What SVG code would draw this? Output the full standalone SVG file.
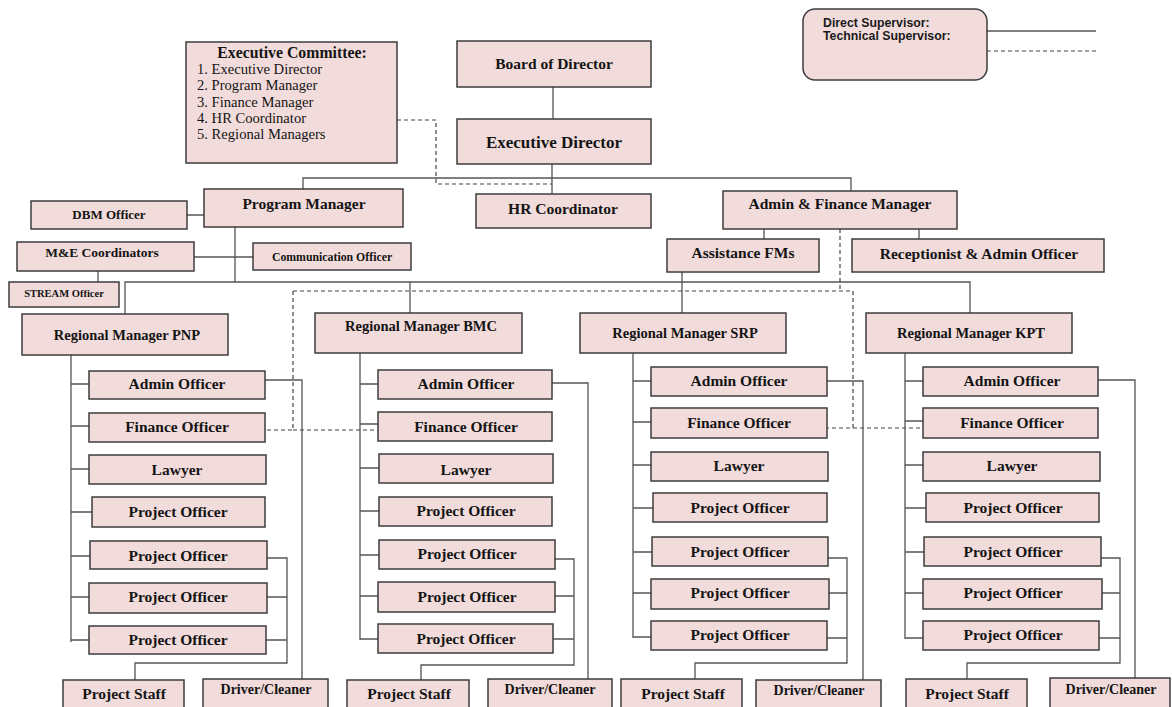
<svg xmlns="http://www.w3.org/2000/svg" width="1172" height="707" viewBox="0 0 1172 707">
<style>
.b{fill:#f2dcdb;stroke:#3c3c3c;stroke-width:1.5}
.t{font-family:"Liberation Serif","Times New Roman",serif;font-weight:bold;fill:#141414;text-anchor:middle;font-size:15.5px}
.s{font-size:14.5px}
.ln{fill:none;stroke:#555;stroke-width:1.3}
.d{fill:none;stroke:#444;stroke-width:1.2;stroke-dasharray:4 3}
.lg{font-family:"Liberation Sans",Arial,sans-serif;font-weight:bold;font-size:12.3px;fill:#1a1a1a}
.r{font-family:"Liberation Serif","Times New Roman",serif;font-size:14.6px;fill:#141414}
</style>
<rect width="1172" height="707" fill="#fff"/>
<g id="connectors">
<path class="ln" d="M553 87V119M552 164V194M303 189V178H851V191"/>
<path class="d" d="M397 120H436V184H552"/>
<path class="ln" d="M187 215H204M194 257H253M235 227V282M98 271V282M125 314V282H970V313M410 282V313M682 272V313M764 229V239M919 229V239"/>
<path class="d" d="M840 229V291M293 291H853M293 291V430H265M293 430H378M853 291V428H826M853 428H923"/>
<path class="ln" d="M987 31H1096"/>
<path class="d" d="M987 51H1098"/>
<path class="ln" d="M71 355V642M71 384H89M71 426H89M71 469H89M71 512H92M71 556H90M71 597H89M71 640H89"/>
<path class="ln" d="M267 558H287V663H135V680M267 597H287M266 640H287M265 380H302V679"/>
<path class="ln" d="M360 353V640M360 384H378M360 424H378M360 468H379M360 511H379M360 555H379M360 596H378M360 639H378"/>
<path class="ln" d="M555 559H574V665H421V680M555 596H574M553 639H574M552 383H588V679"/>
<path class="ln" d="M633 353V638M633 381H651M633 422H651M633 465H651M633 508H653M633 552H652M633 593H651M633 637H651"/>
<path class="ln" d="M828 558H847V663H695V679M829 593H847M827 638H847M827 381H863V680"/>
<path class="ln" d="M905 353V639M905 381H923M905 421H923M905 465H923M905 508H926M905 552H924M905 593H923M905 638H923"/>
<path class="ln" d="M1101 558H1120V663H967V679M1102 593H1120M1099 638H1120M1098 380H1135V678"/>
</g>
<g id="legend">
<rect class="b" x="803" y="9" width="184" height="71" rx="12"/>
<text class="lg" x="823" y="27">Direct Supervisor:</text>
<text class="lg" x="823" y="40">Technical Supervisor:</text>
</g>
<g id="executive-committee">
<rect class="b" x="186" y="42" width="211" height="121"/>
<text class="t" x="292" y="58" style="font-size:15.8px">Executive Committee:</text>
<text class="r" x="197" y="74">1. Executive Director</text>
<text class="r" x="197" y="90.3">2. Program Manager</text>
<text class="r" x="197" y="106.6">3. Finance Manager</text>
<text class="r" x="197" y="122.9">4. HR Coordinator</text>
<text class="r" x="197" y="139.2">5. Regional Managers</text>
</g>
<g id="board"><rect class="b" x="457" y="41" width="194" height="46"/><text class="t" x="554" y="69">Board of Director</text></g>
<g id="executive-director"><rect class="b" x="457" y="119" width="194" height="45"/><text class="t" x="554" y="148" style="font-size:17px">Executive Director</text></g>
<g id="hr-coordinator"><rect class="b" x="476" y="194" width="175" height="34"/><text class="t" x="563" y="214">HR Coordinator</text></g>
<g id="program-manager"><rect class="b" x="204" y="189" width="199" height="38"/><text class="t" x="304" y="209">Program Manager</text></g>
<g id="dbm-officer"><rect class="b" x="31" y="201" width="156" height="28"/><text class="t" x="109" y="219" style="font-size:13px">DBM Officer</text></g>
<g id="me-coordinators"><rect class="b" x="17" y="242" width="177" height="29"/><text class="t" x="102" y="257" style="font-size:13.5px">M&amp;E Coordinators</text></g>
<g id="communication-officer"><rect class="b" x="253" y="243" width="158" height="27"/><text class="t" x="332" y="261" style="font-size:11.8px">Communication Officer</text></g>
<g id="stream-officer"><rect class="b" x="9" y="282" width="110" height="25"/><text class="t" x="64" y="297" style="font-size:10.5px">STREAM Officer</text></g>
<g id="admin-finance-manager"><rect class="b" x="723" y="191" width="234" height="38"/><text class="t" x="840" y="209">Admin &amp; Finance Manager</text></g>
<g id="assistance-fms"><rect class="b" x="667" y="239" width="152" height="33"/><text class="t" x="743" y="258">Assistance FMs</text></g>
<g id="receptionist"><rect class="b" x="852" y="239" width="252" height="33"/><text class="t" x="979" y="259">Receptionist &amp; Admin Officer</text></g>

<g id="rm-pnp"><rect class="b" x="22" y="314" width="206" height="41"/><text class="t s" x="127" y="340">Regional Manager PNP</text></g>
<g id="rm-bmc"><rect class="b" x="315" y="313" width="207" height="40"/><text class="t s" x="421" y="331">Regional Manager BMC</text></g>
<g id="rm-srp"><rect class="b" x="580" y="313" width="206" height="40"/><text class="t s" x="685" y="338">Regional Manager SRP</text></g>
<g id="rm-kpt"><rect class="b" x="866" y="313" width="206" height="40"/><text class="t s" x="971" y="338">Regional Manager KPT</text></g>

<g id="pnp-admin"><rect class="b" x="89" y="371" width="176" height="28"/><text class="t" x="177" y="389">Admin Officer</text></g>
<g id="pnp-finance"><rect class="b" x="89" y="413" width="176" height="29"/><text class="t" x="177" y="432">Finance Officer</text></g>
<g id="pnp-lawyer"><rect class="b" x="89" y="455" width="177" height="29"/><text class="t" x="177" y="475">Lawyer</text></g>
<g id="pnp-po1"><rect class="b" x="92" y="497" width="173" height="30"/><text class="t" x="178" y="517">Project Officer</text></g>
<g id="pnp-po2"><rect class="b" x="90" y="541" width="177" height="28"/><text class="t" x="178" y="561">Project Officer</text></g>
<g id="pnp-po3"><rect class="b" x="89" y="583" width="178" height="30"/><text class="t" x="178" y="602">Project Officer</text></g>
<g id="pnp-po4"><rect class="b" x="89" y="626" width="177" height="28"/><text class="t" x="178" y="645">Project Officer</text></g>
<g id="pnp-staff"><rect class="b" x="63" y="680" width="121" height="40"/><text class="t" x="124" y="699">Project Staff</text></g>
<g id="pnp-driver"><rect class="b" x="203" y="679" width="125" height="40"/><text class="t" x="266" y="694" style="font-size:14px">Driver/Cleaner</text></g>

<g id="bmc-admin"><rect class="b" x="378" y="370" width="174" height="29"/><text class="t" x="466" y="389">Admin Officer</text></g>
<g id="bmc-finance"><rect class="b" x="378" y="412" width="174" height="29"/><text class="t" x="466" y="432">Finance Officer</text></g>
<g id="bmc-lawyer"><rect class="b" x="379" y="454" width="174" height="29"/><text class="t" x="466" y="475">Lawyer</text></g>
<g id="bmc-po1"><rect class="b" x="379" y="497" width="173" height="29"/><text class="t" x="466" y="516">Project Officer</text></g>
<g id="bmc-po2"><rect class="b" x="379" y="540" width="176" height="29"/><text class="t" x="467" y="559">Project Officer</text></g>
<g id="bmc-po3"><rect class="b" x="378" y="582" width="177" height="30"/><text class="t" x="467" y="602">Project Officer</text></g>
<g id="bmc-po4"><rect class="b" x="378" y="624" width="175" height="29"/><text class="t" x="466" y="644">Project Officer</text></g>
<g id="bmc-staff"><rect class="b" x="347" y="680" width="122" height="40"/><text class="t" x="409" y="699">Project Staff</text></g>
<g id="bmc-driver"><rect class="b" x="488" y="679" width="124" height="40"/><text class="t" x="550" y="694" style="font-size:14px">Driver/Cleaner</text></g>

<g id="srp-admin"><rect class="b" x="651" y="367" width="176" height="29"/><text class="t" x="739" y="386">Admin Officer</text></g>
<g id="srp-finance"><rect class="b" x="651" y="408" width="176" height="30"/><text class="t" x="739" y="428">Finance Officer</text></g>
<g id="srp-lawyer"><rect class="b" x="651" y="452" width="177" height="29"/><text class="t" x="739" y="471">Lawyer</text></g>
<g id="srp-po1"><rect class="b" x="653" y="493" width="174" height="29"/><text class="t" x="740" y="513">Project Officer</text></g>
<g id="srp-po2"><rect class="b" x="652" y="537" width="176" height="29"/><text class="t" x="740" y="557">Project Officer</text></g>
<g id="srp-po3"><rect class="b" x="651" y="579" width="178" height="30"/><text class="t" x="740" y="598">Project Officer</text></g>
<g id="srp-po4"><rect class="b" x="651" y="621" width="176" height="29"/><text class="t" x="740" y="640">Project Officer</text></g>
<g id="srp-staff"><rect class="b" x="621" y="679" width="121" height="40"/><text class="t" x="683" y="699">Project Staff</text></g>
<g id="srp-driver"><rect class="b" x="756" y="680" width="125" height="40"/><text class="t" x="819" y="695" style="font-size:14px">Driver/Cleaner</text></g>

<g id="kpt-admin"><rect class="b" x="923" y="367" width="175" height="29"/><text class="t" x="1012" y="386">Admin Officer</text></g>
<g id="kpt-finance"><rect class="b" x="923" y="408" width="175" height="30"/><text class="t" x="1012" y="428">Finance Officer</text></g>
<g id="kpt-lawyer"><rect class="b" x="923" y="452" width="177" height="29"/><text class="t" x="1012" y="471">Lawyer</text></g>
<g id="kpt-po1"><rect class="b" x="926" y="493" width="173" height="29"/><text class="t" x="1013" y="513">Project Officer</text></g>
<g id="kpt-po2"><rect class="b" x="924" y="537" width="177" height="29"/><text class="t" x="1013" y="557">Project Officer</text></g>
<g id="kpt-po3"><rect class="b" x="923" y="579" width="179" height="30"/><text class="t" x="1013" y="598">Project Officer</text></g>
<g id="kpt-po4"><rect class="b" x="923" y="621" width="176" height="29"/><text class="t" x="1013" y="640">Project Officer</text></g>
<g id="kpt-staff"><rect class="b" x="906" y="679" width="121" height="40"/><text class="t" x="967" y="699">Project Staff</text></g>
<g id="kpt-driver"><rect class="b" x="1050" y="678" width="120" height="40"/><text class="t" x="1111" y="694" style="font-size:14px">Driver/Cleaner</text></g>
</svg>
